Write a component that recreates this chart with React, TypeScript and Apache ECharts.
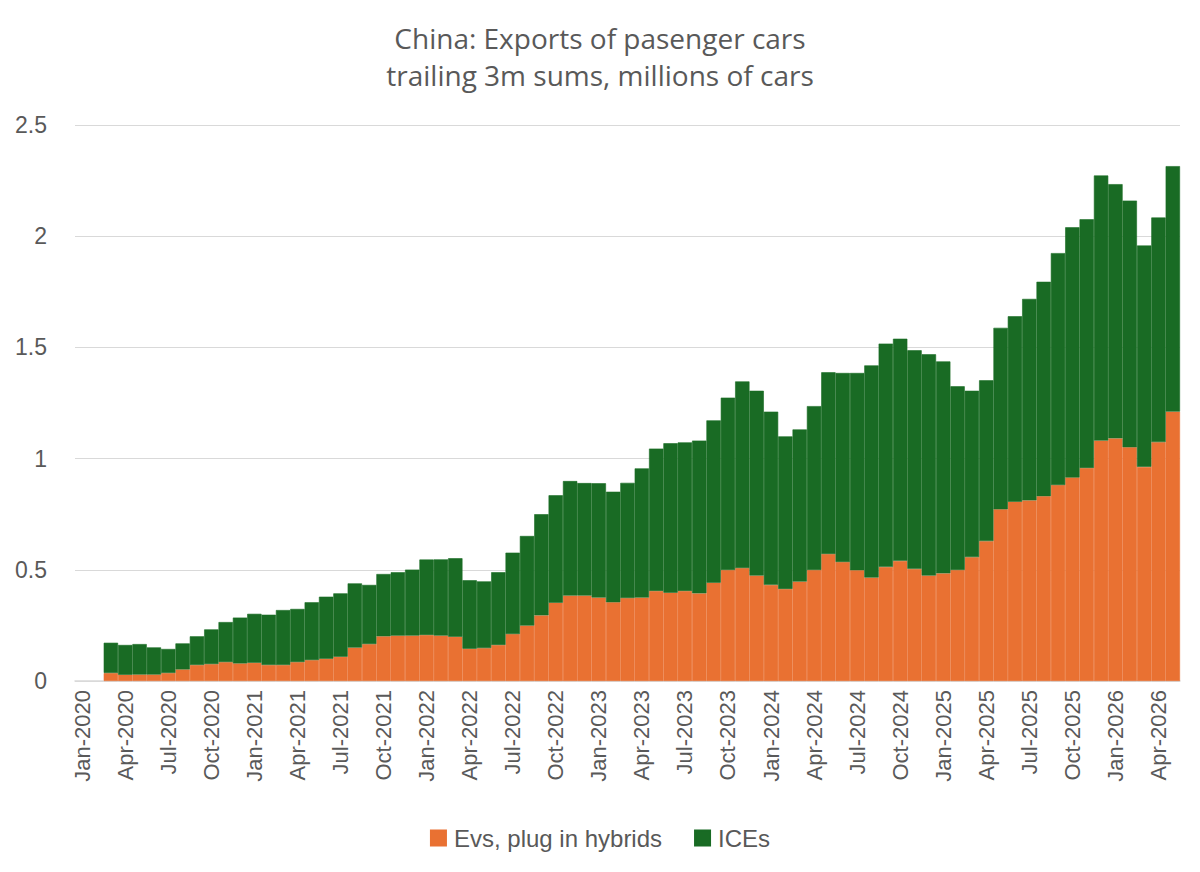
import React, { useEffect, useRef } from "react";
import * as echarts from "echarts";

const years = ["2020", "2021", "2022", "2023", "2024", "2025", "2026"];
const monthNames = ["Jan", "Feb", "Mar", "Apr", "May", "Jun", "Jul", "Aug", "Sep", "Oct", "Nov", "Dec"];
const categories: string[] = [];
years.forEach((y) => monthNames.forEach((m) => categories.push(`${m}-${y}`)));
categories.splice(77);

const evs: (number | null)[] = [
  null, null, 0.036, 0.028, 0.029, 0.029, 0.036, 0.052, 0.072, 0.076, 0.085, 0.079,
  0.082, 0.072, 0.072, 0.085, 0.094, 0.100, 0.109, 0.150, 0.166, 0.201, 0.204, 0.204,
  0.207, 0.204, 0.199, 0.145, 0.148, 0.162, 0.211, 0.249, 0.295, 0.352, 0.384, 0.384,
  0.375, 0.354, 0.373, 0.375, 0.405, 0.397, 0.405, 0.394, 0.442, 0.499, 0.508, 0.474,
  0.432, 0.414, 0.447, 0.499, 0.571, 0.535, 0.498, 0.465, 0.513, 0.540, 0.504, 0.474,
  0.484, 0.499, 0.557, 0.629, 0.772, 0.806, 0.812, 0.831, 0.881, 0.915, 0.958, 1.081,
  1.091, 1.051, 0.963, 1.074, 1.211,
];

const ices: (number | null)[] = [
  null, null, 0.136, 0.134, 0.137, 0.122, 0.108, 0.117, 0.129, 0.156, 0.180, 0.206,
  0.220, 0.226, 0.247, 0.239, 0.260, 0.279, 0.285, 0.289, 0.266, 0.280, 0.285, 0.297,
  0.339, 0.343, 0.353, 0.308, 0.300, 0.327, 0.366, 0.403, 0.455, 0.483, 0.515, 0.506,
  0.514, 0.497, 0.518, 0.581, 0.640, 0.672, 0.668, 0.687, 0.730, 0.775, 0.839, 0.831,
  0.779, 0.686, 0.684, 0.737, 0.817, 0.850, 0.887, 0.954, 1.004, 0.999, 0.983, 0.995,
  0.953, 0.826, 0.748, 0.723, 0.816, 0.834, 0.906, 0.964, 1.043, 1.125, 1.118, 1.192,
  1.143, 1.109, 0.995, 1.010, 1.104,
];

const yTicks = { min: 0, max: 2.5, interval: 0.5 };
const titleLines = ["China: Exports of pasenger cars", "trailing 3m sums, millions of cars"];
const seriesNames = ["Evs, plug in hybrids", "ICEs"];

const TEXT = "#595959";
const FONT = "'Liberation Sans', Arial, sans-serif";
const ORANGE = "#E97132";
const GREEN = "#196B24";

export default function App() {
  const ref = useRef<HTMLDivElement>(null);
  useEffect(() => {
    if (!ref.current) return;
    const chart = echarts.init(ref.current, undefined, { renderer: "svg" });
    chart.setOption({
      animation: false,
      backgroundColor: "#ffffff",
      textStyle: { fontFamily: FONT },
      title: {
        text: titleLines.join("\n"),
        left: "center",
        top: 14,
        textStyle: {
          fontFamily: "'Open Sans', 'Liberation Sans', sans-serif",
          fontSize: 28,
          fontWeight: "normal",
          color: TEXT,
          lineHeight: 37,
        },
      },
      legend: {
        top: 821,
        left: "center",
        icon: "rect",
        itemWidth: 15,
        itemHeight: 15,
        itemGap: 32,
        textStyle: { fontSize: 24, color: TEXT, fontFamily: FONT, padding: [0, 0, 0, 3] },
        data: seriesNames,
      },
      grid: { left: 75, right: 20, top: 125, bottom: 191, containLabel: false },
      xAxis: {
        type: "category",
        data: categories,
        axisLine: { lineStyle: { color: "#d9d9d9", width: 1.5 } },
        axisTick: { show: false },
        axisLabel: {
          interval: 2,
          rotate: 90,
          fontSize: 22,
          color: TEXT,
          margin: 9,
          fontFamily: FONT,
        },
      },
      yAxis: {
        type: "value",
        min: yTicks.min,
        max: yTicks.max,
        interval: yTicks.interval,
        axisLine: { show: false },
        axisTick: { show: false },
        splitLine: { lineStyle: { color: "#d9d9d9", width: 1 } },
        axisLabel: {
          fontSize: 23,
          color: TEXT,
          margin: 28,
          fontFamily: FONT,
          formatter: (v: number) => String(v),
        },
      },
      series: [
        {
          name: seriesNames[0],
          type: "bar",
          stack: "total",
          data: evs,
          barCategoryGap: "0%",
          itemStyle: { color: ORANGE, borderColor: ORANGE, borderWidth: 0.6 },
        },
        {
          name: seriesNames[1],
          type: "bar",
          stack: "total",
          data: ices,
          barCategoryGap: "0%",
          itemStyle: { color: GREEN, borderColor: GREEN, borderWidth: 0.6 },
        },
      ],
    });
    return () => chart.dispose();
  }, []);
  return (
    <div
      ref={ref}
      style={{ position: "absolute", left: 0, top: 0, width: 1200, height: 872 }}
    />
  );
}
